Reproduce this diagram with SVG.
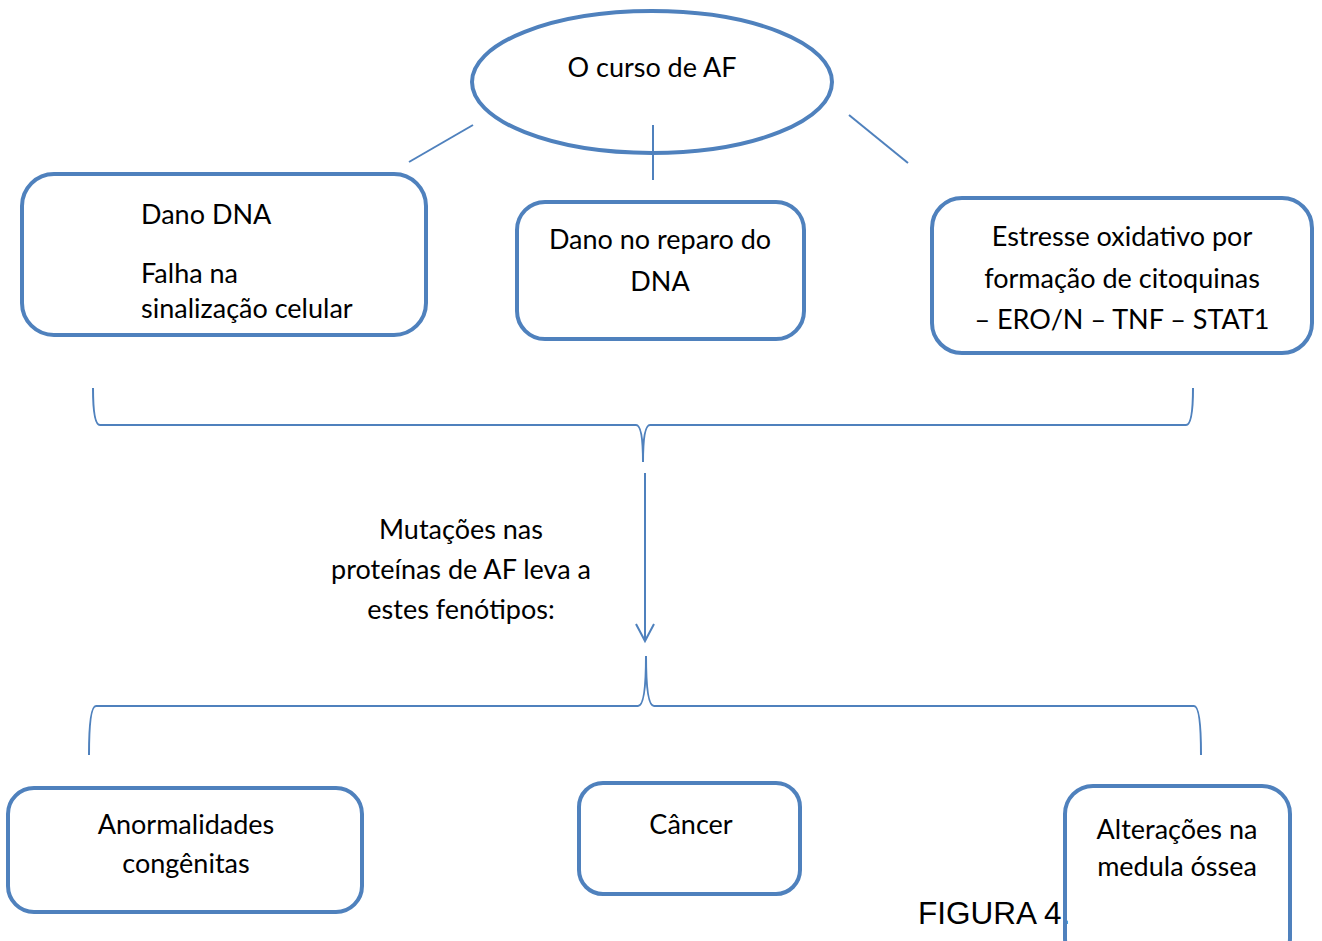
<svg xmlns="http://www.w3.org/2000/svg" width="1322" height="941" viewBox="0 0 1322 941">
<style>
.box{fill:none;stroke:#4F81BD;stroke-width:4}
.ln{fill:none;stroke:#4F81BD;stroke-width:2}
.t{font-family:Lato,"Liberation Sans",sans-serif;font-size:27px;fill:#000}
.c{text-anchor:middle}
.fig{font-family:"Liberation Sans",Arial,sans-serif;font-size:31.5px;fill:#000}
</style>
<rect width="1322" height="941" fill="#fff"/>
<g id="connectors">
<line class="ln" x1="473" y1="125" x2="409" y2="162"/>
<line class="ln" x1="653" y1="125" x2="653" y2="180"/>
<line class="ln" x1="849" y1="115" x2="908" y2="163"/>
<path class="ln" d="M93,388 Q93,425 100,425 L636,425 Q643,425 643,462 Q643,425 650,425 L1186,425 Q1193,425 1193,388"/>
<line class="ln" x1="645" y1="473" x2="645" y2="641"/>
<polyline class="ln" points="636,624 645,641 654,624"/>
<path class="ln" d="M89,755 Q89,706 96,706 L638,706 Q646,706 646,656 Q646,706 654,706 L1194,706 Q1201,706 1201,755"/>
</g>
<g id="root">
<ellipse class="box" cx="652" cy="82" rx="180" ry="71"/>
<text class="t c" x="652" y="77">O curso de AF</text>
</g>
<g id="n1">
<rect class="box" x="22" y="174" width="404" height="161" rx="32"/>
<text class="t" x="141" y="224">Dano DNA</text>
<text class="t" x="141" y="283">Falha na</text>
<text class="t" x="141" y="318">sinalização celular</text>
</g>
<g id="n2">
<rect class="box" x="517" y="202" width="287" height="137" rx="28"/>
<text class="t c" x="660" y="249">Dano no reparo do</text>
<text class="t c" x="660" y="291">DNA</text>
</g>
<g id="n3">
<rect class="box" x="932" y="198" width="380" height="155" rx="30"/>
<text class="t c" x="1122" y="246">Estresse oxidativo por</text>
<text class="t c" x="1122" y="288">formação de citoquinas</text>
<text class="t c" x="1122" y="329">– ERO/N – TNF – STAT1</text>
</g>
<g id="label">
<text class="t c" x="461" y="539">Mutações nas</text>
<text class="t c" x="461" y="579">proteínas de AF leva a</text>
<text class="t c" x="461" y="619">estes fenótipos:</text>
</g>
<g id="n4">
<rect class="box" x="8" y="788" width="354" height="124" rx="26"/>
<text class="t c" x="186" y="834">Anormalidades</text>
<text class="t c" x="186" y="873">congênitas</text>
</g>
<g id="n5">
<rect class="box" x="579" y="783" width="221" height="111" rx="24"/>
<text class="t c" x="691" y="834">Câncer</text>
</g>
<g id="caption">
<text class="fig" x="918" y="924">FIGURA 4.</text>
</g>
<g id="n6">
<rect class="box" x="1065" y="786" width="225" height="180" rx="28"/>
<text class="t c" x="1177" y="839">Alterações na</text>
<text class="t c" x="1177" y="876">medula óssea</text>
</g>
</svg>
